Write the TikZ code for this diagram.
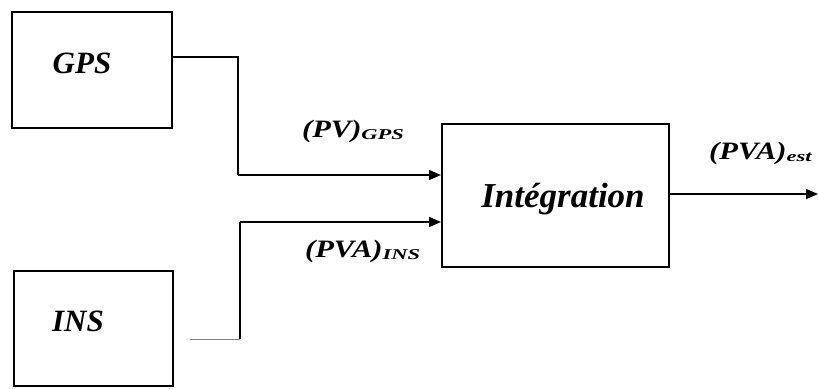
\documentclass[tikz,border=0pt]{standalone}
\usepackage{fontspec}
\setmainfont{Liberation Serif}
\usetikzlibrary{arrows.meta}
\newcommand{\lbl}[2]{\scalebox{1.22}[1]{\fontsize{25}{28}\selectfont\bfseries\itshape #1}\scalebox{1.5}[1]{\fontsize{15}{17}\selectfont\bfseries\itshape\raisebox{-0.4ex}{#2}}}
\begin{document}
\begin{tikzpicture}[x=1pt,y=-1pt,
  blockbox/.style={draw,line width=1.6pt,inner sep=0pt,anchor=north west},
  blocktext/.style={font=\fontsize{31}{34}\selectfont\bfseries\itshape},
  wire/.style={line width=1.5pt},
  arrowwire/.style={wire,-{Triangle[length=12pt,width=10pt]}},
  lbltext/.style={inner sep=0pt}]
\useasboundingbox (0,0) rectangle (818,388);
% blocks
\node[blockbox,minimum width=160pt,minimum height=116pt] (gps) at (11,11) {};
\node[blocktext] at (82,63) {GPS};
\node[blockbox,minimum width=159pt,minimum height=115pt] (ins) at (13,270) {};
\node[blocktext] at (78,321) {INS};
\node[blockbox,minimum width=227pt,minimum height=143pt] (int) at (441,123) {};
\node[font=\fontsize{35}{38}\selectfont\bfseries\itshape] at (563,199) {Intégration};
% routing points
\coordinate (g1) at (238,57);
\coordinate (g2) at (238,175);
\coordinate (i0) at (190,339);
\coordinate (i1) at (240,339);
\coordinate (i2) at (240,222);
\coordinate (out) at (818,194);
% connectors
\draw[wire] (gps.east |- g1) -- (g1) -- (g2);
\draw[arrowwire] (g2) -- (g2 -| int.west);
\draw[line width=0.8pt,gray] (i0) -- (i1);
\draw[wire] (i1) -- (i2);
\draw[arrowwire] (i2) -- (i2 -| int.west);
\draw[arrowwire] (int.east |- out) -- (out);
% labels
\node[lbltext,anchor=west] at (302,131) {\lbl{(PV)}{GPS}};
\node[lbltext,anchor=west] at (305,251) {\lbl{(PVA)}{INS}};
\node[lbltext,anchor=west] at (709,153) {\lbl{(PVA)}{est}};
\end{tikzpicture}
\end{document}
